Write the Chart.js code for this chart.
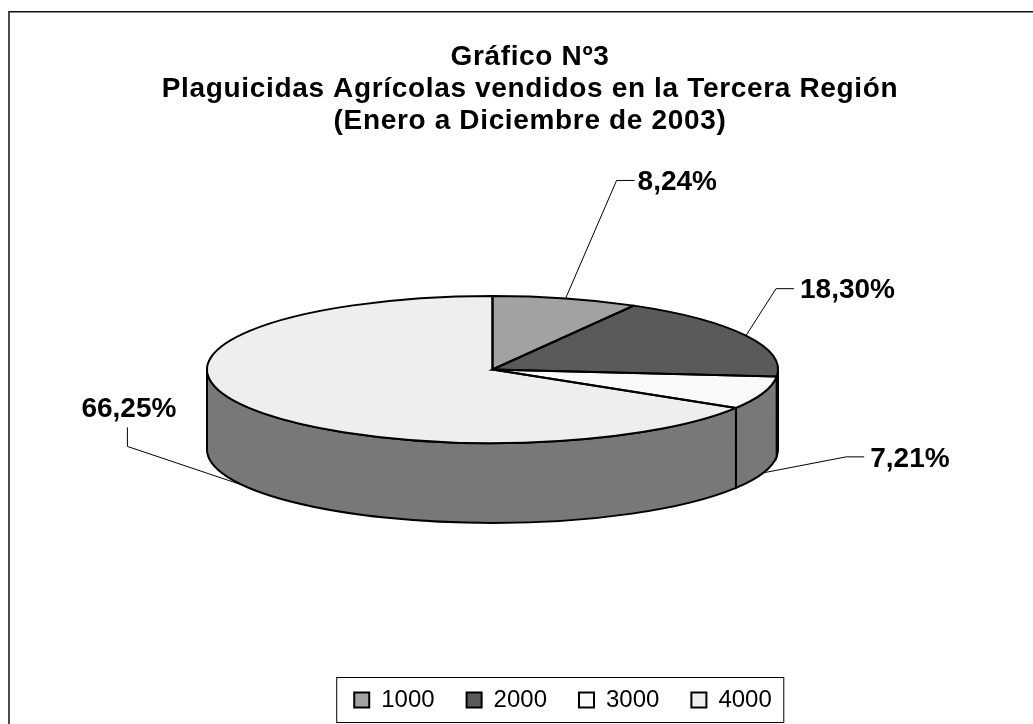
<!DOCTYPE html>
<html>
<head>
<meta charset="utf-8">
<script src="https://cdn.jsdelivr.net/npm/chart.js@4/dist/chart.umd.min.js"></script>
<style>
  html, body { margin: 0; padding: 0; background: #fff; }
  canvas { display: block; }
</style>
</head>
<body>
<canvas id="grafico" width="1033" height="724"></canvas>
<script>
// Datos
const categorias = ["1000", "2000", "3000", "4000"];
const porcentajes = [8.24, 18.30, 7.21, 66.25];
const colores = ["#a2a2a2", "#5a5a5a", "#f9f9f9", "#eeeeee"];
const titulo = [
  "Gráfico Nº3",
  "Plaguicidas Agrícolas vendidos en la Tercera Región",
  "(Enero a Diciembre de 2003)",
];

// Proyeccion del pie 3D
const pie3d = { cx: 492.5, cy: 369.5, rx: 285.5, ry: 73.5, alto: 80, pared: "#787878" };
// codo y texto de cada etiqueta, relativos al punto del borde
const guias = [
  { codo: [51, -118], fin: [69, -118], texto: [72, -116] },
  { codo: [30, -47], fin: [48, -47], texto: [54, -45] },
  { codo: [83, -16], fin: [101, -16], texto: [107, -14] },
  { codo: [-116, -39], fin: [-116, -58], texto: [-162, -76] },
];

const formato = (v) => v.toFixed(2).replace(".", ",") + "%";

const plugin3d = {
  id: "plugin3d",
  afterLayout(chart) {
    // el titulo va con letras separadas y la leyenda un poco a la derecha
    const t = chart.titleBlock;
    const drawTitulo = t.draw;
    t.draw = function () {
      chart.ctx.letterSpacing = "0.66px";
      drawTitulo.call(t);
      chart.ctx.letterSpacing = "0px";
    };
    chart.legend.left += 33;
    chart.legend.right += 33;
    chart.legend.adjustHitBoxes();
  },
  beforeDraw(chart) {
    // solo hay linea arriba y a la izquierda
    const c = chart.ctx;
    c.save();
    c.strokeStyle = "#111";
    c.lineWidth = 1.5;
    c.beginPath();
    c.moveTo(1033, 11.75);
    c.lineTo(9, 11.75);
    c.lineTo(9, 724);
    c.stroke();
    c.restore();
  },
  afterDraw(chart) {
    // recuadro de la leyenda
    const cajas = chart.legend.legendHitBoxes;
    const ult = cajas[cajas.length - 1];
    const izq = cajas[0].left - 17.5;
    const c = chart.ctx;
    c.save();
    c.strokeStyle = "#000";
    c.lineWidth = 1;
    c.strokeRect(izq, 677.5, ult.left + ult.width + 12 - izq, 45);
    c.restore();
  },
  beforeDatasetsDraw(chart) {
    const c = chart.ctx;
    const arcos = chart.getDatasetMeta(0).data;
    const { cx, cy, rx, ry, alto, pared } = pie3d;

    // paredes: solo la mitad frontal de cada sector
    c.save();
    c.lineWidth = 2;
    c.strokeStyle = "#000";
    c.fillStyle = pared;
    arcos.forEach((a) => {
      const ini = Math.max(a.startAngle, 0);
      const fin = Math.min(a.endAngle, Math.PI);
      if (fin <= ini) return;
      c.beginPath();
      c.ellipse(cx, cy, rx, ry, 0, ini, fin);
      c.ellipse(cx, cy + alto, rx, ry, 0, fin, ini, true);
      c.closePath();
      c.fill();
      c.stroke();
    });
    c.restore();

    // aplastar el pie de la libreria
    const a = arcos[0];
    c.save();
    c.translate(cx, cy);
    c.scale(rx / a.outerRadius, ry / a.outerRadius);
    c.translate(-a.x, -a.y);
  },
  afterDatasetsDraw(chart) {
    const c = chart.ctx;
    const arcos = chart.getDatasetMeta(0).data;
    const { cx, cy, rx, ry, alto } = pie3d;
    c.restore();

    // contorno de cada sector con grosor uniforme
    c.save();
    c.lineWidth = 2;
    c.strokeStyle = "#000";
    arcos.forEach((a) => {
      c.beginPath();
      c.moveTo(cx, cy);
      c.ellipse(cx, cy, rx, ry, 0, a.startAngle, a.endAngle);
      c.closePath();
      c.stroke();
    });

    // etiquetas con linea guia
    c.lineWidth = 1;
    c.fillStyle = "#000";
    c.font = "bold 28px 'Liberation Sans'";
    c.textBaseline = "middle";
    arcos.forEach((a, i) => {
      const medio = (a.startAngle + a.endAngle) / 2;
      const x = cx + rx * Math.cos(medio);
      let y = cy + ry * Math.sin(medio);
      if (Math.sin(medio) > 0) y += alto;
      const g = guias[i];
      c.beginPath();
      c.moveTo(x, y);
      c.lineTo(x + g.codo[0], y + g.codo[1]);
      c.lineTo(x + g.fin[0], y + g.fin[1]);
      c.stroke();
      c.fillText(formato(porcentajes[i]), x + g.texto[0], y + g.texto[1]);
    });
    c.restore();
  },
};

new Chart(document.getElementById("grafico"), {
  type: "pie",
  data: {
    labels: categorias,
    datasets: [{ data: porcentajes, backgroundColor: colores, borderWidth: 0 }],
  },
  options: {
    responsive: false,
    animation: false,
    layout: { padding: { top: 41, bottom: 2, left: 27, right: 0 } },
    plugins: {
      tooltip: { enabled: false },
      title: {
        display: true,
        text: titulo,
        color: "#000",
        font: { family: "'Liberation Sans'", size: 28, weight: "bold", lineHeight: 1.143 },
        padding: 0,
      },
      legend: {
        position: "bottom",
        labels: {
          color: "#000",
          font: { family: "'Liberation Sans'", size: 24 },
          boxWidth: 15,
          boxHeight: 15,
          padding: 32,
          generateLabels(chart) {
            return categorias.map((t, i) => ({
              text: t,
              fillStyle: colores[i],
              strokeStyle: "#000",
              lineWidth: 2,
              index: i,
            }));
          },
        },
      },
    },
  },
  plugins: [plugin3d],
});
</script>
</body>
</html>
